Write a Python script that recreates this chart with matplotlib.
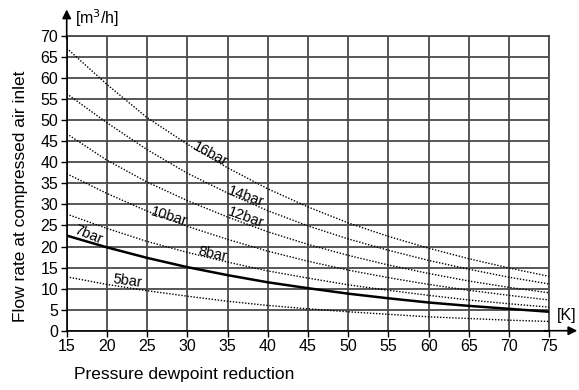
import matplotlib
matplotlib.use("Agg")
import matplotlib.pyplot as plt

plt.rcParams['font.family'] = ['Liberation Sans', 'DejaVu Sans']

# Data
dewpoint_k = [15, 20, 25, 30, 35, 40, 45, 50, 55, 60, 65, 70, 75]
flow_16bar = [67.1, 58.5, 50.6, 44.3, 38.7, 33.7, 29.4, 25.6, 22.4, 19.6, 17.1, 14.9, 12.9]
flow_14bar = [56.3, 49.4, 43.0, 37.4, 32.7, 28.5, 24.9, 21.8, 19.1, 16.7, 14.6, 12.7, 11.1]
flow_12bar = [46.8, 40.5, 35.3, 30.9, 27.0, 23.5, 20.5, 17.9, 15.6, 13.6, 11.8, 10.3, 9.0]
flow_10bar = [37.3, 32.6, 28.4, 24.8, 21.7, 18.9, 16.5, 14.4, 12.6, 11.0, 9.6, 8.4, 7.3]
flow_8bar = [27.7, 24.3, 21.2, 18.6, 16.3, 14.2, 12.5, 10.9, 9.6, 8.4, 7.3, 6.4, 5.6]
flow_7bar = [22.6, 19.8, 17.3, 15.1, 13.2, 11.5, 10.1, 8.8, 7.7, 6.7, 5.9, 5.2, 4.5]
flow_5bar = [12.8, 11.0, 9.5, 8.2, 7.0, 6.0, 5.2, 4.5, 3.9, 3.3, 2.9, 2.5, 2.2]

series_names = ["16bar", "14bar", "12bar", "10bar", "8bar", "7bar", "5bar"]
x_ticks = [15, 20, 25, 30, 35, 40, 45, 50, 55, 60, 65, 70, 75]
y_ticks = [0, 5, 10, 15, 20, 25, 30, 35, 40, 45, 50, 55, 60, 65, 70]

series = [flow_16bar, flow_14bar, flow_12bar, flow_10bar, flow_8bar, flow_7bar, flow_5bar]
label_pos = [(32.8, 41.9, -28), (37.3, 31.9, -20), (37.3, 26.9, -20),
             (27.7, 27.2, -17), (33.1, 18.2, -12), (17.7, 22.7, -22), (22.5, 11.8, -8)]

fig = plt.figure(figsize=(5.79, 3.90), dpi=100)
ax = fig.add_axes([0.1152, 0.152, 0.8335, 0.7557])

ax.set_xlim(15, 75)
ax.set_ylim(0, 70)
ax.set_xticks(x_ticks)
ax.set_yticks(y_ticks)
ax.tick_params(labelsize=11.5, length=4, width=1, direction='out', pad=2)
ax.grid(True, color='#4a4a4a', linewidth=1.3)
ax.set_axisbelow(True)
for s in ['top', 'right']:
    ax.spines[s].set_color('#4a4a4a')
    ax.spines[s].set_linewidth(1.3)
for s in ['left', 'bottom']:
    ax.spines[s].set_color('black')
    ax.spines[s].set_linewidth(1.2)

for name, vals in zip(series_names, series):
    if name == "7bar":
        ax.plot(dewpoint_k, vals, color='black', lw=1.8, solid_capstyle='butt', zorder=3)
    else:
        ax.plot(dewpoint_k, vals, color='black', lw=1.0, linestyle=(0, (1, 1.2)), zorder=3)

for name, (lx, ly, rot) in zip(series_names, label_pos):
    ax.text(lx, ly, name, fontsize=10.5, rotation=rot, ha='center', va='center',
            rotation_mode='anchor', zorder=4)

# axis arrows
ax.annotate('', xy=(0, 1.09), xytext=(0, 0.99), xycoords='axes fraction',
            arrowprops=dict(arrowstyle='-|>', color='black', lw=1.2, mutation_scale=13,
                            shrinkA=0, shrinkB=0), annotation_clip=False)
ax.annotate('', xy=(1.058, 0), xytext=(0.99, 0), xycoords='axes fraction',
            arrowprops=dict(arrowstyle='-|>', color='black', lw=1.2, mutation_scale=13,
                            shrinkA=0, shrinkB=0), annotation_clip=False)

ax.text(0.017, 1.062, '[m$^3$/h]', transform=ax.transAxes, fontsize=11.5, ha='left', va='center')
ax.text(1.015, 0.052, '[K]', transform=ax.transAxes, fontsize=11.5, ha='left', va='center')

fig.text(0.318, 0.041, 'Pressure dewpoint reduction', fontsize=12.5, ha='center', va='center')
fig.text(0.035, 0.496, 'Flow rate at compressed air inlet', fontsize=12.5, ha='center',
         va='center', rotation=90)

fig.savefig('out.png', dpi=100)
